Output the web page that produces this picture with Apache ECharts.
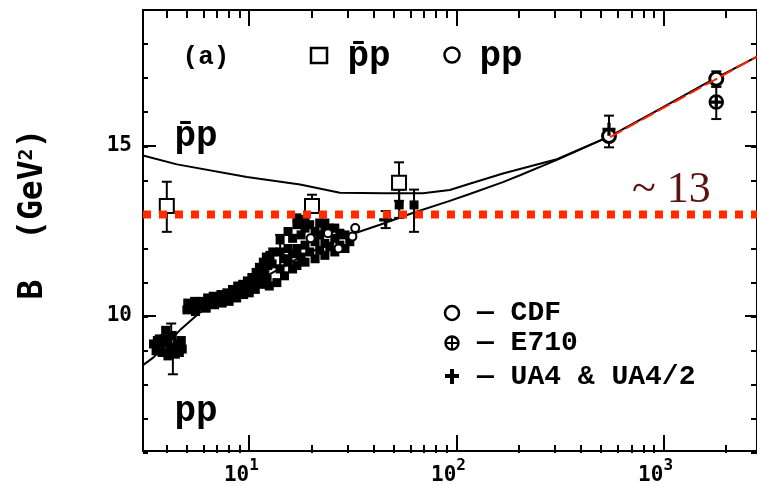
<!DOCTYPE html>
<html>
<head>
<meta charset="utf-8">
<script src="https://cdn.jsdelivr.net/npm/echarts@6/dist/echarts.min.js"></script>
<style>
html, body { margin: 0; padding: 0; background: #fff; }
#chart { width: 757px; height: 486px; }
</style>
</head>
<body>
<div id="chart"></div>
<script>
// Elastic diffraction slope B versus sqrt(s) for pp and p̄p scattering

const sqrtSMin = 3.07, sqrtSMax = 2831;
const bMin = 6, bMax = 19;

// axis ticks (sqrt(s) in GeV, B in GeV^2)
const xMajorTicks = [10, 100, 1000];
const xMinorTicks = [4, 5, 6, 7, 8, 9, 20, 30, 40, 50, 60, 70, 80, 90,
                     200, 300, 400, 500, 600, 700, 800, 900, 2000];
const yMajorTicks = [10, 15];
const yMinorTicks = [6, 7, 8, 9, 10, 11, 12, 13, 14, 15, 16, 17, 18, 19];

// model curves
const ppCurveS = [3.07, 3.44, 4.0, 4.62, 5.78, 7.22, 9.75, 12.6, 17.6, 27.4, 42.8, 62, 93, 116, 168, 203, 306, 553, 964, 1553, 2831];
const ppCurveB = [8.58, 8.8, 9.2, 9.6, 10.12, 10.45, 10.85, 11.25, 11.75, 12.3, 12.7, 13.05, 13.4, 13.6, 13.95, 14.15, 14.6, 15.3, 16.1, 16.8, 17.63];
const pbarpCurveS = [3.07, 4.48, 9.75, 17.6, 27.4, 45, 69, 93, 116, 168, 240, 306, 553];
const pbarpCurveB = [14.73, 14.47, 14.1, 13.88, 13.64, 13.62, 13.62, 13.72, 13.9, 14.2, 14.45, 14.62, 15.3];

// straight high-energy extrapolation
const fitS = [553, 2831];
const fitB = [15.27, 17.63];

// reference level
const refLevel = 13;
const refLabel = '~ 13';

// pp measurements, fixed-target energies
const ppLowEnergy = [
  [3.45, 9.2], [3.55, 9.0], [3.6, 9.3], [3.75, 9.15], [3.8, 8.95], [3.9, 9.35], [3.95, 9.6],
  [4.05, 9.25], [4.05, 8.85], [4.15, 9.05], [4.25, 9.45], [4.3, 9.1], [4.4, 8.9],
  [4.5, 9.2], [4.6, 8.95], [4.7, 9.3], [4.75, 9.05],
  [5.0, 10.2], [5.05, 10.4], [5.2, 10.3], [5.35, 10.25], [5.45, 10.45], [5.6, 10.35],
  [5.8, 10.3], [5.95, 10.45], [6.1, 10.4], [6.3, 10.55], [6.5, 10.4], [6.7, 10.6],
  [6.9, 10.5], [7.1, 10.45], [7.3, 10.65], [7.6, 10.55], [7.8, 10.7], [8.1, 10.6],
  [8.3, 10.8], [8.5, 10.65], [8.8, 10.9], [9.0, 10.75], [9.3, 10.95], [9.5, 10.8],
  [9.8, 11.05], [10.1, 10.9], [10.3, 11.15], [10.6, 11.0], [10.8, 11.3], [11.0, 11.1],
  [11.2, 11.45], [11.5, 11.25], [11.7, 11.6], [11.9, 11.35], [12.1, 11.75], [12.3, 11.5],
  [12.5, 10.9], [12.2, 11.1], [12.6, 11.8],
  [5.5, 10.15], [6.2, 10.25], [6.8, 10.35], [7.4, 10.4], [8.0, 10.45], [8.7, 10.55],
  [9.4, 10.65], [10.0, 10.7], [10.7, 10.8], [11.4, 10.95], [13.0, 11.9], [12.9, 11.55]
];
// pp measurements, ISR energies
const ppIsr = [
  [13.6, 11.0], [14.1, 11.4], [14.1, 11.9], [14.1, 12.25], [14.8, 11.2], [14.8, 11.7],
  [15.4, 11.6], [15.4, 12.0], [15.4, 12.5], [16.2, 11.4], [16.2, 11.85], [16.2, 12.3],
  [17.0, 11.5], [17.0, 12.0], [17.0, 12.7], [17.0, 12.9], [17.8, 11.75], [17.8, 12.4],
  [18.6, 11.6], [18.6, 12.1], [18.6, 12.6], [18.6, 12.85], [19.6, 11.9], [19.6, 12.7],
  [20.8, 11.7], [20.8, 12.2], [20.8, 12.5], [21.9, 11.95], [21.9, 12.4], [21.9, 12.75],
  [23.2, 11.8], [23.2, 12.15], [23.2, 12.5], [23.2, 12.75], [24.5, 12.05], [24.5, 12.6],
  [25.9, 11.9], [25.9, 12.3], [25.9, 12.6], [27.4, 12.1], [27.4, 12.45], [29, 12.0],
  [29, 12.4], [30.6, 12.2], [53, 13.28], [62.5, 13.28]
];
const ppIsrOpen = [[19.8, 12.3], [24, 12.45], [27, 12.0], [31.5, 12.35], [32.5, 12.6]];
const ppErrors = [[4.28, 8.31, 8.85], [4.2, 9.0, 9.8], [3.7, 8.9, 9.45], [14.1, 11.5, 12.4],
                  [53, 12.9, 13.73], [62.5, 12.49, 13.73]];

// p̄p measurements
const pbarpPoints = [[4.0, 13.25], [20.1, 13.25], [52.9, 13.93]];
const pbarpErrors = [[4.0, 12.49, 13.96], [20.1, 13.05, 13.58], [52.9, 13.4, 14.53]];

// collider experiments
const cdfPoints = [[546, 15.3], [1800, 16.98]];
const cdfErrors = [[1800, 16.75, 17.2]];
const e710Points = [[1800, 16.3]];
const e710Errors = [[1800, 15.8, 16.75]];
const ua4Points = [[45.6, 12.84], [546, 15.5]];
const ua4Errors = [[45.6, 12.6, 13.1], [546, 14.97, 15.9]];

const logMin = Math.log10(sqrtSMin), logMax = Math.log10(sqrtSMax);
const black = '#000';
const mono = 'DejaVu Sans Mono';
const legendFont = 'bold 28px "Liberation Mono"';
const bigFont = 'bold 36px "Liberation Mono"';

const gridRect = { left: 143, right: -2, top: 10, bottom: 33 };
const plusPath = 'path://M-1.5,-6h3v4.5h4.5v3h-4.5v4.5h-3v-4.5h-4.5v-3h4.5z';

function tickAxis(extra) {
  return Object.assign({
    splitLine: { show: false },
    axisLine: { show: false },
    axisLabel: { show: false }
  }, extra);
}

function errorBars(rows) {
  return {
    type: 'custom', xAxisIndex: 0, yAxisIndex: 0, z: 4, silent: true,
    data: rows, encode: { x: 0, y: [1, 2] },
    renderItem(params, api) {
      const s = api.value(0);
      const lo = api.coord([s, api.value(1)]);
      const hi = api.coord([s, api.value(2)]);
      const hw = 5;
      const st = { stroke: black, lineWidth: 2 };
      return {
        type: 'group', children: [
          { type: 'line', shape: { x1: lo[0], y1: lo[1], x2: hi[0], y2: hi[1] }, style: st },
          { type: 'line', shape: { x1: lo[0] - hw, y1: lo[1], x2: lo[0] + hw, y2: lo[1] }, style: st },
          { type: 'line', shape: { x1: hi[0] - hw, y1: hi[1], x2: hi[0] + hw, y2: hi[1] }, style: st }
        ]
      };
    }
  };
}

const zip = (a, b) => a.map((v, i) => [v, b[i]]);

const chart = echarts.init(document.getElementById('chart'), null, { renderer: 'canvas' });

chart.setOption({
  backgroundColor: '#fff',
  animation: false,
  grid: [
    Object.assign({}, gridRect),
    Object.assign({}, gridRect),
    Object.assign({}, gridRect)
  ],
  xAxis: [
    // data axis
    { type: 'log', logBase: 10, gridIndex: 0, min: sqrtSMin, max: sqrtSMax,
      axisLine: { show: false }, axisTick: { show: false }, axisLabel: { show: false },
      splitLine: { show: false } },
    // frame, major ticks and mantissa labels
    { type: 'value', gridIndex: 1, position: 'bottom', min: logMin, max: logMax,
      splitLine: { show: false },
      axisLine: { show: true, lineStyle: { color: black, width: 2 } },
      axisTick: { show: true, inside: true, length: 16, lineStyle: { color: black, width: 2 },
                  customValues: xMajorTicks.map(Math.log10) },
      axisLabel: { show: true, margin: 14, customValues: xMajorTicks.map(Math.log10),
        formatter: () => '10', align: 'right',
        fontFamily: mono, fontWeight: 'bold', fontSize: 21, color: black } },
    { type: 'value', gridIndex: 1, position: 'top', min: logMin, max: logMax,
      splitLine: { show: false },
      axisLine: { show: true, lineStyle: { color: black, width: 2 } },
      axisTick: { show: true, inside: true, length: 16, lineStyle: { color: black, width: 2 },
                  customValues: xMajorTicks.map(Math.log10) },
      axisLabel: { show: false } },
    // minor ticks and exponent labels
    tickAxis({ type: 'value', gridIndex: 2, position: 'bottom', min: logMin, max: logMax,
      axisTick: { show: true, inside: true, length: 8, lineStyle: { color: black, width: 2 },
                  customValues: xMinorTicks.map(Math.log10) },
      axisLabel: { show: true, margin: 5, customValues: xMajorTicks.map(Math.log10),
        formatter: v => String(Math.round(v)), align: 'left',
        fontFamily: mono, fontWeight: 'bold', fontSize: 16, color: black } }),
    tickAxis({ type: 'value', gridIndex: 2, position: 'top', min: logMin, max: logMax,
      axisTick: { show: true, inside: true, length: 8, lineStyle: { color: black, width: 2 },
                  customValues: xMinorTicks.map(Math.log10) } })
  ],
  yAxis: [
    { type: 'value', gridIndex: 0, min: bMin, max: bMax,
      axisLine: { show: false }, axisTick: { show: false }, axisLabel: { show: false },
      splitLine: { show: false } },
    { type: 'value', gridIndex: 1, position: 'left', min: bMin, max: bMax,
      splitLine: { show: false },
      axisLine: { show: true, lineStyle: { color: black, width: 2 } },
      axisTick: { show: true, inside: true, length: 13, lineStyle: { color: black, width: 2 },
                  customValues: yMajorTicks },
      axisLabel: { show: true, margin: 11, customValues: yMajorTicks,
                   fontFamily: mono, fontWeight: 'bold', fontSize: 21, color: black } },
    { type: 'value', gridIndex: 1, position: 'right', min: bMin, max: bMax,
      splitLine: { show: false },
      axisLine: { show: true, lineStyle: { color: black, width: 2 } },
      axisTick: { show: true, inside: true, length: 12, lineStyle: { color: black, width: 2 },
                  customValues: yMajorTicks },
      axisLabel: { show: false } },
    tickAxis({ type: 'value', gridIndex: 2, position: 'left', min: bMin, max: bMax,
      axisTick: { show: true, inside: true, length: 5, lineStyle: { color: black, width: 2 },
                  customValues: yMinorTicks } }),
    tickAxis({ type: 'value', gridIndex: 2, position: 'right', min: bMin, max: bMax,
      axisTick: { show: true, inside: true, length: 6, lineStyle: { color: black, width: 2 },
                  customValues: yMinorTicks } })
  ],
  series: [
    { type: 'line', name: 'pp fit', data: zip(ppCurveS, ppCurveB), showSymbol: false,
      lineStyle: { color: black, width: 2 }, z: 2, silent: true },
    { type: 'line', name: 'p̄p fit', data: zip(pbarpCurveS, pbarpCurveB), showSymbol: false,
      lineStyle: { color: black, width: 2 }, z: 2, silent: true },
    errorBars(ppErrors),
    errorBars(pbarpErrors),
    errorBars(cdfErrors),
    errorBars(e710Errors),
    errorBars(ua4Errors),
    { type: 'scatter', name: 'pp', data: ppLowEnergy.concat(ppIsr), symbol: 'rect', symbolSize: 9,
      itemStyle: { color: black, opacity: 1 }, z: 5, silent: true },
    { type: 'scatter', name: 'pp open', data: ppIsrOpen, symbol: 'circle', symbolSize: 8,
      itemStyle: { color: '#fff', borderColor: black, borderWidth: 2, opacity: 1 }, z: 6, silent: true },
    { type: 'scatter', name: 'p̄p', data: pbarpPoints, symbol: 'rect', symbolSize: 14,
      itemStyle: { color: '#fff', borderColor: black, borderWidth: 2, opacity: 1 }, z: 5, silent: true },
    { type: 'scatter', name: 'CDF', data: cdfPoints, symbol: 'circle', symbolSize: 13,
      itemStyle: { color: '#fff', borderColor: black, borderWidth: 3, opacity: 1 }, z: 6, silent: true },
    { type: 'scatter', name: 'E710', data: e710Points, symbol: 'circle', symbolSize: 13,
      itemStyle: { color: '#fff', borderColor: black, borderWidth: 2.5, opacity: 1 }, z: 6, silent: true },
    { type: 'scatter', name: 'UA4', data: ua4Points.concat(e710Points), symbol: plusPath, symbolSize: 13,
      itemStyle: { color: black, opacity: 1 }, z: 7, silent: true },
    { type: 'line', name: 'extrapolation', data: zip(fitS, fitB), showSymbol: false,
      lineStyle: { color: '#ff2200', width: 2, type: [14, 4] }, z: 8, silent: true },
    { type: 'line', name: 'level', data: [[sqrtSMin, refLevel], [sqrtSMax, refLevel]], showSymbol: false,
      lineStyle: { color: '#ff2a00', width: 8, type: [8, 8], cap: 'butt' }, z: 9, silent: true }
  ],
  graphic: [
    { type: 'text', x: 33, y: 214, rotation: Math.PI / 2, z: 100,
      style: { text: 'B  (GeV{s|2})', font: 'bold 33px "DejaVu Sans Mono"', fill: black,
               align: 'center', verticalAlign: 'middle',
               rich: { s: { fontFamily: mono, fontWeight: 'bold', fontSize: 20, fill: black,
                            verticalAlign: 'top', lineHeight: 20 } } } },
    { type: 'text', x: 206, y: 57, z: 100,
      style: { text: '(a)', font: 'bold 26px "Liberation Mono"', fill: black, align: 'center', verticalAlign: 'middle' } },
    { type: 'rect', x: 311, y: 48, z: 100, shape: { width: 16, height: 15 },
      style: { fill: '#fff', stroke: black, lineWidth: 2.5 } },
    { type: 'text', x: 369, y: 57, z: 100,
      style: { text: 'p\u0304p', font: bigFont, fill: black, align: 'center', verticalAlign: 'middle' } },
    { type: 'circle', x: 452, y: 55, z: 100, shape: { r: 7.5 },
      style: { fill: '#fff', stroke: black, lineWidth: 2.5 } },
    { type: 'text', x: 501, y: 57, z: 100,
      style: { text: 'pp', font: bigFont, fill: black, align: 'center', verticalAlign: 'middle' } },
    { type: 'text', x: 196, y: 137, z: 100,
      style: { text: 'p\u0304p', font: bigFont, fill: black, align: 'center', verticalAlign: 'middle' } },
    { type: 'text', x: 196, y: 412, z: 100,
      style: { text: 'pp', font: bigFont, fill: black, align: 'center', verticalAlign: 'middle' } },
    // experiment key
    { type: 'circle', x: 452, y: 313, z: 100, shape: { r: 7 },
      style: { fill: '#fff', stroke: black, lineWidth: 2.5 } },
    { type: 'text', x: 477, y: 313, z: 100,
      style: { text: '— CDF', font: legendFont, fill: black, align: 'left', verticalAlign: 'middle' } },
    { type: 'circle', x: 452, y: 343, z: 100, shape: { r: 6.5 },
      style: { fill: '#fff', stroke: black, lineWidth: 2.5 } },
    { type: 'rect', x: 451, y: 337, z: 101, shape: { width: 2, height: 12 }, style: { fill: black } },
    { type: 'rect', x: 446, y: 342, z: 101, shape: { width: 12, height: 2 }, style: { fill: black } },
    { type: 'text', x: 477, y: 343, z: 100,
      style: { text: '— E710', font: legendFont, fill: black, align: 'left', verticalAlign: 'middle' } },
    { type: 'rect', x: 450, y: 369, z: 101, shape: { width: 4, height: 15 }, style: { fill: black } },
    { type: 'rect', x: 445, y: 374, z: 101, shape: { width: 14, height: 4 }, style: { fill: black } },
    { type: 'text', x: 477, y: 377, z: 100,
      style: { text: '— UA4 & UA4/2', font: legendFont, fill: black, align: 'left', verticalAlign: 'middle' } },
    // reference level label
    { type: 'text', x: 632, y: 190, z: 120,
      style: { text: refLabel, font: '44px "Liberation Serif"', fill: '#5c1212', align: 'left', verticalAlign: 'middle' } }
  ]
});
</script>
</body>
</html>
